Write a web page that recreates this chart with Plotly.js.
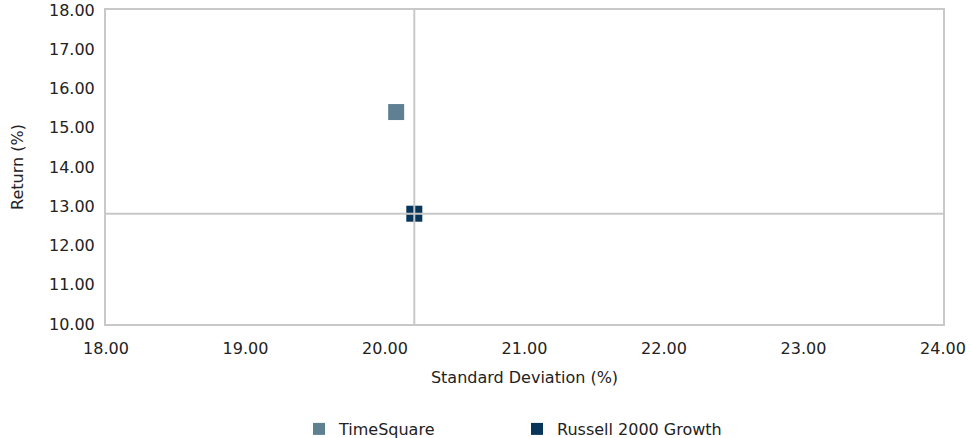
<!DOCTYPE html>
<html><head><meta charset="utf-8">
<script src="https://cdn.plot.ly/plotly-3.0.1.min.js"></script>
<style>body{margin:0;background:#fff}#c{width:970px;height:438px}</style>
</head><body><div id="c"></div>
<script>
const seriesNames = ["TimeSquare", "Russell 2000 Growth"];
const stdDev = [20.08, 20.21];
const returns = [15.40, 12.81];
const colors = ["#5f7f93", "#08365a"];
const xRange = [18, 24];
const yRange = [10, 18];
const benchIdx = 1;

const font = {family: "DejaVu Sans, sans-serif", size: 16, color: "#222"};
const traces = seriesNames.map((n, i) => ({
  type: "scatter", mode: "markers", name: n,
  x: [stdDev[i]], y: [returns[i]],
  marker: {symbol: "square", size: 16, color: colors[i]}
}));
// crosshair lines at benchmark values
traces.push({type: "scatter", mode: "lines", showlegend: false, hoverinfo: "skip",
  x: [stdDev[benchIdx], stdDev[benchIdx]], y: yRange, line: {color: "#c8c8c8", width: 2}});
traces.push({type: "scatter", mode: "lines", showlegend: false, hoverinfo: "skip",
  x: xRange, y: [returns[benchIdx], returns[benchIdx]], line: {color: "#c8c8c8", width: 2}});

const layout = {
  width: 970, height: 438,
  margin: {l: 106, r: 27, t: 10, b: 114, autoexpand: false},
  paper_bgcolor: "#fff", plot_bgcolor: "#fff",
  font: font,
  showlegend: true,
  xaxis: {range: xRange, dtick: 1, tickformat: ".2f", showgrid: false, zeroline: false,
    showline: true, mirror: true, linecolor: "#c8c8c8", linewidth: 2, ticks: "", ticklabelstandoff: 9,
    title: {text: "Standard Deviation (%)", font: font, standoff: 15}},
  yaxis: {range: yRange, dtick: 1, tickformat: ".2f", showgrid: false, zeroline: false,
    showline: true, mirror: true, linecolor: "#c8c8c8", linewidth: 2, ticks: "", ticklabelstandoff: 6,
    title: {text: "Return (%)", font: font, standoff: 21}},
  legend: {orientation: "h", x: 0.2306, xanchor: "left", y: (324 - 429) / 314, yanchor: "middle",
    entrywidth: 173, font: font, itemsizing: "constant"}
};
Plotly.newPlot("c", traces, layout, {displayModeBar: false, staticPlot: true});
</script></body></html>
